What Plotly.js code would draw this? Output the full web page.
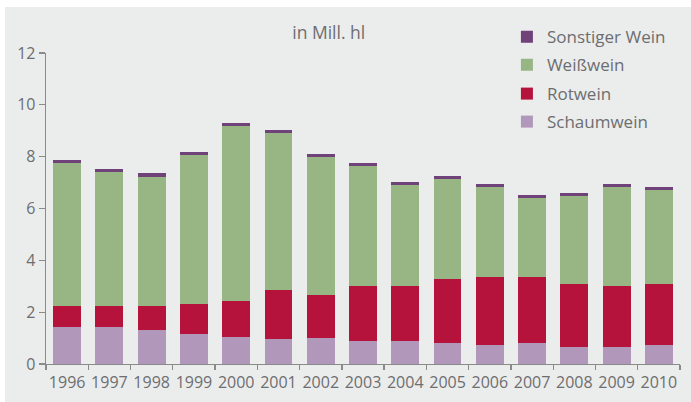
<!DOCTYPE html>
<html>
<head>
<meta charset="utf-8">
<script src="https://cdn.plot.ly/plotly-3.0.1.min.js"></script>
<style>
html,body{margin:0;padding:0;background:#ffffff;}
#chart{position:absolute;left:5px;top:7px;width:686px;height:395px;}
</style>
</head>
<body>
<div id="chart"></div>
<script>
var years = ['1996','1997','1998','1999','2000','2001','2002','2003','2004','2005','2006','2007','2008','2009','2010'];
var schaumwein = [1.44,1.44,1.32,1.17,1.05,0.97,1.01,0.90,0.90,0.82,0.74,0.82,0.67,0.67,0.74];
var rotwein    = [0.80,0.80,0.92,1.15,1.39,1.89,1.66,2.11,2.11,2.46,2.62,2.54,2.42,2.34,2.35];
var weisswein  = [5.51,5.16,4.98,5.74,6.74,6.05,5.31,4.63,3.89,3.86,3.47,3.05,3.39,3.82,3.62];
var sonstiger  = [0.12,0.12,0.14,0.12,0.11,0.11,0.12,0.11,0.12,0.11,0.11,0.11,0.12,0.11,0.12];
var yTicks = [0,2,4,6,8,10,12];

var txtCol = '#6d6e70';
var fam = 'Open Sans, sans-serif';
var tickFont = {family:fam, size:16, color:txtCol};
var legFont = {family:fam, size:17, color:txtCol};
var titleFont = {family:fam, size:17.5, color:txtCol};

function tr(name, vals, col, leg){
  return {type:'bar', name:name, x:years, y:vals, legend:leg, marker:{color:col, line:{width:0}}, hoverinfo:'x+y+name'};
}
var data = [
  tr('Schaumwein', schaumwein, '#b197b9', 'legend4'),
  tr('Rotwein', rotwein, '#b5123c', 'legend3'),
  tr('Weißwein', weisswein, '#98b584', 'legend2'),
  tr('Sonstiger Wein', sonstiger, '#6f4279', 'legend')
];

function leg(y){
  return {x:0.727, xanchor:'left', y:y, yanchor:'middle', font:legFont, bgcolor:'rgba(0,0,0,0)', borderwidth:0};
}

var layout = {
  width:686, height:395,
  barmode:'stack', bargap:0.34,
  paper_bgcolor:'#ebecec', plot_bgcolor:'#ebecec',
  margin:{l:41, r:11, t:46, b:38, pad:0},
  font:tickFont,
  title:{text:'in Mill. hl', font:titleFont, x:0.446, xanchor:'center', xref:'paper', y:0.935, yref:'container', yanchor:'middle'},
  showlegend:true,
  legend:leg(1.051),
  legend2:leg(0.961),
  legend3:leg(0.868),
  legend4:leg(0.778),
  xaxis:{type:'category', tickson:'boundaries', ticks:'outside', ticklen:5, tickcolor:'#8a8a8a', tickwidth:1.3,
         tickangle:0, ticklabelstandoff:3, showline:true, linecolor:'#8a8a8a', linewidth:1.3, showgrid:false, zeroline:false,
         tickfont:tickFont, range:[-0.5,14.5], fixedrange:true},
  yaxis:{range:[0,12], tickvals:yTicks, ticktext:yTicks.map(String), ticks:'outside', ticklen:6, tickcolor:'#8a8a8a', tickwidth:1.3,
         showline:true, linecolor:'#8a8a8a', linewidth:1.3, showgrid:false, zeroline:false,
         tickfont:tickFont, fixedrange:true}
};
Plotly.newPlot('chart', data, layout, {displayModeBar:false, staticPlot:true});
</script>
</body>
</html>
